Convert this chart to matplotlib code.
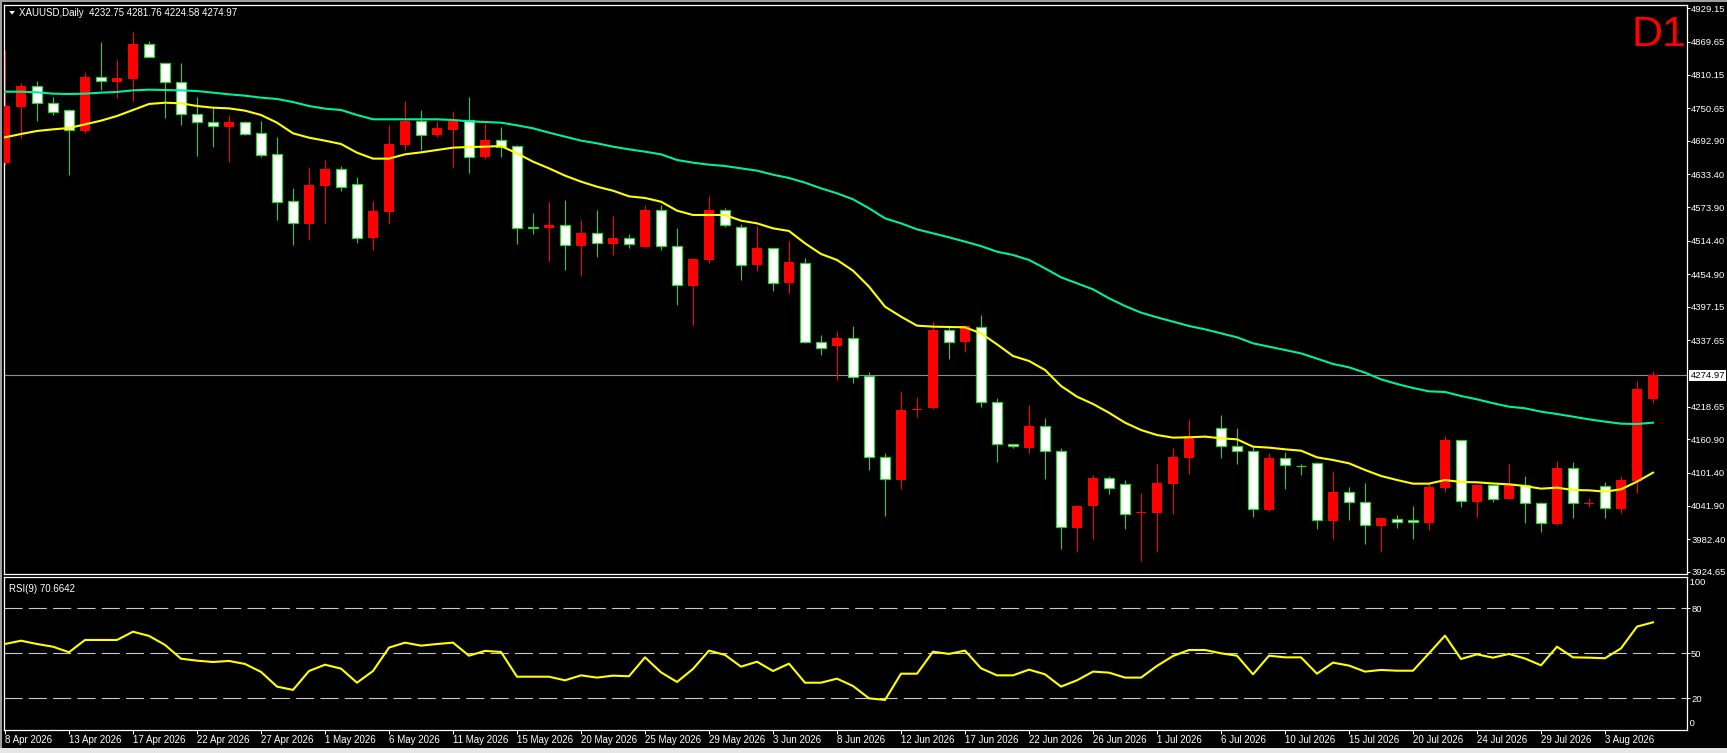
import numpy as np
import matplotlib.pyplot as plt
from matplotlib.patches import Rectangle, Polygon

plt.rcParams['font.family'] = ['Liberation Sans', 'DejaVu Sans']
plt.rcParams['lines.scale_dashes'] = False

# Daily XAUUSD candles, 8 Apr 2026 .. 6 Aug 2026
opens = [4653.7, 4753.5, 4790.3, 4759.5, 4747.0, 4710.8, 4805.8, 4798.1, 4802.8, 4865.2,
         4830.7, 4796.9, 4739.9, 4725.6, 4717.3, 4725.6, 4706.0, 4668.6, 4584.8, 4545.0,
         4612.7, 4642.0, 4615.1, 4520.1, 4565.8, 4684.6, 4728.6, 4703.0, 4712.5, 4729.8,
         4663.2, 4693.5, 4683.4, 4538.5, 4537.9, 4542.0, 4505.8, 4527.8, 4509.3, 4518.8,
         4504.0, 4568.7, 4504.6, 4434.5, 4480.8, 4568.7, 4538.5, 4471.9, 4501.0, 4439.3,
         4475.5, 4334.7, 4327.6, 4340.7, 4273.6, 4128.6, 4088.2, 4212.4, 4217.1, 4355.5,
         4334.7, 4361.5, 4226.6, 4151.8, 4145.9, 4183.9, 4139.3, 4003.3, 4042.5, 4091.2,
         4080.5, 4028.8, 4030.0, 4081.7, 4128.0, 4165.0, 4180.3, 4148.2, 4139.3, 4034.8,
         4126.8, 4114.0, 4117.9, 4015.8, 4066.3, 4048.4, 4006.9, 4019.3, 4016.4, 4012.2,
         4074.6, 4158.9, 4049.6, 4078.7, 4055.0, 4079.3, 4046.7, 4009.8, 4109.0, 4046.0,
         4078.1, 4036.6, 4086.5, 4232.75]
highs = [4854.5, 4796.3, 4799.3, 4770.2, 4748.8, 4815.3, 4868.8, 4836.7, 4886.6, 4870.5,
         4830.7, 4830.7, 4770.2, 4750.5, 4738.7, 4728.0, 4728.0, 4699.5, 4608.0, 4646.6,
         4658.5, 4647.8, 4628.8, 4585.4, 4720.8, 4764.2, 4747.6, 4728.6, 4745.8, 4770.2,
         4723.8, 4717.3, 4685.2, 4564.0, 4583.6, 4587.2, 4551.5, 4569.3, 4558.6, 4526.6,
         4578.2, 4578.2, 4537.3, 4484.4, 4594.3, 4572.9, 4544.4, 4540.8, 4501.0, 4514.1,
         4483.8, 4346.6, 4353.8, 4362.7, 4280.1, 4135.8, 4246.8, 4236.7, 4369.8, 4360.3,
         4363.9, 4382.3, 4233.8, 4151.8, 4221.9, 4198.7, 4144.7, 4043.7, 4096.6, 4095.4,
         4087.6, 4065.1, 4116.8, 4145.3, 4196.9, 4169.0, 4204.1, 4180.9, 4147.6, 4136.4,
         4138.1, 4116.8, 4119.7, 4104.3, 4075.8, 4082.9, 4021.7, 4025.9, 4041.9, 4083.5,
         4166.6, 4159.5, 4080.0, 4079.3, 4116.8, 4095.4, 4049.6, 4122.1, 4120.3, 4055.6,
         4085.3, 4095.4, 4265.1, 4281.76]
lows = [4649.6, 4697.1, 4728.6, 4738.7, 4632.3, 4707.2, 4783.2, 4769.6, 4764.2, 4841.4,
        4733.9, 4720.8, 4665.6, 4681.6, 4654.9, 4702.4, 4664.4, 4551.6, 4507.0, 4515.9,
        4545.6, 4603.2, 4511.2, 4498.1, 4544.4, 4676.3, 4676.3, 4700.0, 4644.8, 4635.9,
        4660.3, 4664.4, 4509.3, 4527.2, 4479.1, 4463.0, 4452.3, 4486.2, 4489.7, 4502.2,
        4503.0, 4498.7, 4400.6, 4365.0, 4475.5, 4539.6, 4444.6, 4460.6, 4425.0, 4421.4,
        4331.7, 4311.0, 4266.4, 4261.7, 4106.1, 4024.1, 4072.2, 4201.1, 4215.0, 4304.5,
        4316.9, 4218.9, 4120.9, 4144.7, 4136.9, 4090.6, 3965.3, 3960.5, 3983.7, 4063.9,
        4001.5, 3944.5, 3960.5, 4028.2, 4099.5, 4163.0, 4128.0, 4117.3, 4022.3, 4033.6,
        4072.8, 4097.1, 4001.5, 3983.7, 4017.6, 3974.8, 3960.5, 4003.3, 3983.7, 3999.1,
        4067.4, 4040.1, 4022.9, 4049.6, 4054.0, 4012.2, 3996.2, 4008.6, 4021.1, 4040.7,
        4019.9, 4030.0, 4065.7, 4224.58]
closes = [4754.7, 4790.3, 4759.5, 4743.4, 4711.3, 4805.8, 4798.7, 4804.6, 4865.2, 4842.6,
          4796.9, 4739.9, 4725.6, 4719.1, 4725.6, 4705.4, 4667.4, 4584.2, 4545.6, 4613.9,
          4642.4, 4611.0, 4520.1, 4567.6, 4687.0, 4728.6, 4703.6, 4715.5, 4728.0, 4663.2,
          4694.1, 4682.2, 4537.9, 4537.5, 4542.6, 4506.4, 4528.4, 4509.9, 4519.4, 4508.2,
          4569.3, 4504.6, 4435.1, 4482.0, 4569.3, 4542.0, 4471.9, 4501.6, 4439.8, 4476.1,
          4334.7, 4322.9, 4340.7, 4272.4, 4128.6, 4089.4, 4213.0, 4213.6, 4355.5, 4334.7,
          4362.7, 4226.6, 4151.8, 4148.2, 4184.5, 4139.3, 4003.9, 4041.9, 4091.8, 4073.4,
          4027.1, 4031.2, 4082.9, 4129.2, 4166.0, 4167.5, 4148.2, 4139.3, 4036.0, 4127.4,
          4114.4, 4113.8, 4016.4, 4066.9, 4048.4, 4007.5, 4019.9, 4012.8, 4012.8, 4075.8,
          4159.5, 4050.2, 4079.3, 4053.8, 4079.3, 4046.7, 4011.0, 4109.0, 4046.7, 4047.5,
          4037.7, 4088.2, 4250.1, 4274.97]

# moving averages drawn on the price panel
ma_fast = [4698.9, 4704.8, 4710.2, 4713.1, 4715.5, 4722.0, 4728.6, 4736.9, 4747.6, 4758.3,
           4760.6, 4759.5, 4754.7, 4751.7, 4750.5, 4746.4, 4738.7, 4725.0, 4706.0, 4698.3,
           4692.9, 4687.0, 4671.5, 4660.9, 4660.9, 4668.6, 4672.1, 4676.3, 4680.5, 4681.6,
           4682.2, 4683.4, 4670.4, 4655.5, 4643.6, 4630.6, 4619.9, 4610.9, 4603.8, 4593.7,
           4590.8, 4584.2, 4568.2, 4560.5, 4560.5, 4560.5, 4550.4, 4545.6, 4536.7, 4532.0,
           4510.0, 4491.0, 4480.3, 4461.3, 4432.8, 4397.1, 4379.3, 4363.3, 4361.5, 4360.9,
           4360.3, 4349.6, 4330.0, 4309.2, 4300.3, 4284.3, 4255.8, 4236.7, 4223.7, 4208.0,
           4190.4, 4177.3, 4168.4, 4163.7, 4164.3, 4165.5, 4162.5, 4160.7, 4147.6, 4145.9,
           4142.9, 4140.5, 4128.6, 4123.9, 4117.9, 4106.1, 4095.4, 4088.2, 4081.7, 4081.7,
           4088.2, 4084.7, 4084.1, 4082.0, 4080.5, 4077.5, 4072.8, 4074.6, 4070.4, 4069.8,
           4067.5, 4071.6, 4085.3, 4101.3]
ma_slow = [4780.2, 4780.2, 4779.1, 4776.7, 4776.1, 4776.7, 4778.5, 4779.7, 4782.6, 4783.8,
           4783.2, 4782.6, 4781.4, 4778.5, 4775.5, 4773.1, 4769.6, 4767.2, 4761.8, 4754.7,
           4750.0, 4747.6, 4738.7, 4731.0, 4731.0, 4731.0, 4731.0, 4731.0, 4729.8, 4727.4,
           4726.2, 4725.0, 4720.3, 4714.9, 4707.2, 4700.1, 4693.0, 4688.2, 4682.2, 4677.5,
           4673.3, 4668.6, 4658.5, 4653.7, 4650.2, 4647.8, 4643.6, 4639.5, 4632.3, 4626.4,
           4618.1, 4608.0, 4599.1, 4588.4, 4572.4, 4554.5, 4545.6, 4534.9, 4527.8, 4520.7,
           4513.0, 4505.0, 4495.1, 4489.2, 4480.3, 4465.4, 4449.4, 4438.7, 4428.0, 4412.0,
           4398.3, 4386.4, 4378.1, 4370.4, 4362.7, 4356.7, 4349.6, 4342.5, 4331.8, 4325.8,
           4319.9, 4313.9, 4304.5, 4295.0, 4289.0, 4279.5, 4267.6, 4259.3, 4252.2, 4246.2,
           4245.1, 4237.9, 4232.0, 4225.0, 4218.9, 4216.0, 4210.0, 4205.8, 4201.1, 4196.3,
           4192.2, 4188.6, 4188.0, 4190.4]

# RSI(9)
rsi = [56.2, 58.4, 56.2, 54.4, 50.7, 58.9, 58.9, 58.9, 64.4, 61.6,
       55.6, 46.4, 45.1, 44.2, 44.9, 42.9, 37.6, 27.8, 25.6, 38.2,
       42.4, 39.8, 30.4, 38.2, 53.8, 57.1, 55.1, 56.2, 57.1, 48.4,
       51.6, 50.9, 34.4, 34.4, 34.4, 32.0, 35.3, 33.8, 35.1, 34.7,
       47.3, 37.3, 30.9, 39.6, 51.8, 48.9, 41.1, 44.4, 38.2, 43.1,
       30.4, 30.4, 33.1, 28.2, 20.0, 18.9, 36.4, 36.4, 51.1, 49.6,
       51.8, 40.0, 35.3, 35.3, 39.1, 36.0, 27.8, 32.0, 37.8, 37.1,
       33.8, 33.8, 41.6, 48.2, 52.2, 52.2, 50.0, 48.4, 36.0, 48.4,
       47.3, 47.3, 36.4, 43.8, 41.8, 37.8, 38.9, 38.4, 38.4, 50.0,
       61.8, 46.2, 49.3, 47.1, 49.6, 46.5, 42.0, 54.4, 47.3, 47.1,
       46.7, 53.3, 67.8, 70.66]
rsi_levels = [20, 50, 80]
rsi_last = 70.6642

date_labels = ['8 Apr 2026', '13 Apr 2026', '17 Apr 2026', '22 Apr 2026', '27 Apr 2026',
               '1 May 2026', '6 May 2026', '11 May 2026', '15 May 2026', '20 May 2026',
               '25 May 2026', '29 May 2026', '3 Jun 2026', '8 Jun 2026', '12 Jun 2026',
               '17 Jun 2026', '22 Jun 2026', '26 Jun 2026', '1 Jul 2026', '6 Jul 2026',
               '10 Jul 2026', '15 Jul 2026', '20 Jul 2026', '24 Jul 2026', '29 Jul 2026',
               '3 Aug 2026']
price_ticks = [4929.15, 4869.65, 4810.15, 4750.65, 4692.90, 4633.40, 4573.90, 4514.40,
               4454.90, 4397.15, 4337.65, 4218.65, 4160.90, 4101.40, 4041.90, 3982.40, 3924.65]
last_price = 4274.97

RED = '#ff0000'
GREEN = '#32cd32'
W, H = 1727, 753

fig = plt.figure(figsize=(W / 100, H / 100), dpi=100, facecolor='black')


def box(l, t, r, b):
    # pixel box (from top-left) -> figure fraction rect
    return [l / W, 1 - b / H, (r - l) / W, (b - t) / H]


ax = fig.add_axes(box(4, 5, 1687, 574))
ax_rsi = fig.add_axes(box(4, 577, 1687, 730), sharex=ax)

for a in (ax, ax_rsi):
    a.set_facecolor('black')
    for s in a.spines.values():
        s.set_color('white')
        s.set_linewidth(0.9)
    a.yaxis.tick_right()
    a.tick_params(axis='y', colors='white', labelsize=6.8, length=2.2, width=0.7, pad=0.8)

# ---- candles
x = np.arange(len(opens))
o, h, l, c = (np.array(v) for v in (opens, highs, lows, closes))
up = c >= o

ax.vlines(x[up], l[up], h[up], color=RED, lw=0.8, zorder=2)
ax.vlines(x[~up], l[~up], h[~up], color=GREEN, lw=0.8, zorder=2)
ax.bar(x[up], np.maximum(c - o, 1.8)[up], bottom=o[up], width=0.68,
       color=RED, lw=0, zorder=3)
ax.bar(x[~up], (o - c)[~up], bottom=c[~up], width=0.62,
       facecolor='white', edgecolor=GREEN, lw=0.9, zorder=3)

ax.plot(x, ma_slow, color='#00f09a', lw=1.5, zorder=4)
ax.plot(x, ma_fast, color='#ffff00', lw=1.5, zorder=4)

ax.axhline(last_price, color='#8c8c96', lw=0.8, zorder=1)

ax.set_xlim(-0.0625, 105.125)
ax.set_ylim(3920.7, 4934.7)
ax.set_yticks(price_ticks)
ax.set_yticklabels([f'{v:.2f}' for v in price_ticks])
ax.tick_params(axis='x', bottom=False, labelbottom=False)

ax.annotate(f'{last_price:.2f}', xy=(1, last_price), xycoords=('axes fraction', 'data'),
            xytext=(2.6, 0), textcoords='offset points', ha='left', va='center',
            fontsize=6.8, color='black',
            bbox=dict(boxstyle='square,pad=0.12', fc='white', ec='none'),
            annotation_clip=False)

# ---- RSI panel
for lvl in rsi_levels:
    ax_rsi.axhline(lvl, color='#c8c8c8', lw=0.8, dashes=(13, 4.5), zorder=1)
ax_rsi.plot(x, rsi, color='#ffff00', lw=1.5, zorder=3)
ax_rsi.set_ylim(-1.13, 100.87)
ax_rsi.set_yticks(rsi_levels)
ax_rsi.set_yticklabels([str(v) for v in rsi_levels])
ax_rsi.text(1.0, 100, ' 100', transform=ax_rsi.get_yaxis_transform(), ha='left', va='top',
            fontsize=6.8, color='white')
ax_rsi.text(1.0, 0, ' 0', transform=ax_rsi.get_yaxis_transform(), ha='left', va='bottom',
            fontsize=6.8, color='white')

ax_rsi.set_xticks(np.arange(0, 4 * len(date_labels), 4))
ax_rsi.set_xticklabels(date_labels, ha='left')
ax_rsi.tick_params(axis='x', colors='white', labelsize=7, length=3, width=0.7, pad=0.5)

ax_rsi.text(0.003, 0.955, f'RSI(9) {rsi_last:.4f}', transform=ax_rsi.transAxes,
            ha='left', va='top', fontsize=7, color='white')

# ---- header texts
fig.text(19 / W, 1 - 12.7 / H, 'XAUUSD,Daily  4232.75 4281.76 4224.58 4274.97',
         ha='left', va='center', fontsize=7, color='white')
tri = np.array([[9.3, 11.0], [14.9, 11.0], [12.1, 14.6]])
fig.patches.append(Polygon(np.column_stack([tri[:, 0] / W, 1 - tri[:, 1] / H]),
                           closed=True, transform=fig.transFigure, fc='white', ec='none'))
fig.text(1686 / W, 1 - 15 / H, 'D1', ha='right', va='top', fontsize=31, color=RED)

# window frame: grey top/left edge, light strip along the bottom
fig.patches.append(Rectangle((0, 1 - 2 / H), 1, 2 / H, transform=fig.transFigure,
                             fc='#a0a0a0', ec='none'))
fig.patches.append(Rectangle((0, 0), 2 / W, 1, transform=fig.transFigure,
                             fc='#a0a0a0', ec='none'))
fig.patches.append(Rectangle((0, 0), 1, 5 / H, transform=fig.transFigure,
                             fc='#e6e6e6', ec='none'))

fig.savefig('out.png', dpi=100, facecolor='black')
